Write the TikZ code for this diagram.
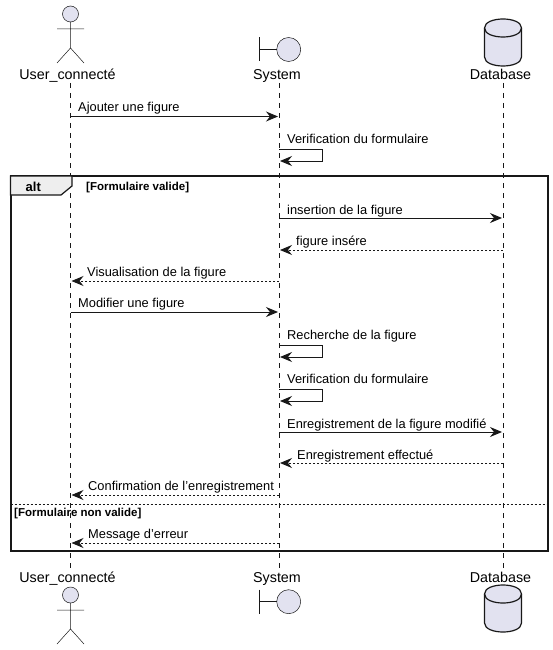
\documentclass[tikz,border=0pt]{standalone}
\usepackage{fontspec}
\setmainfont[Ligatures=Common]{Liberation Sans}
\usetikzlibrary{arrows.meta,positioning}
\definecolor{line}{HTML}{181818}
\definecolor{part}{HTML}{E2E2F0}
\definecolor{tabfill}{HTML}{EEEEEE}
\tikzset{
  actor/.pic={
    \draw[line, fill=part, line width=0.5pt] (0,0) circle (8);
    \draw[line, line width=0.5pt] (0,8) -- (0,34) (-13.5,15) -- (13.5,15) (-13.5,49) -- (0,34) -- (13.5,49);
  },
  boundary/.pic={
    \draw[line, fill=part, line width=0.5pt] (0,0) circle (12);
    \draw[line, line width=0.5pt] (-29,-12) -- (-29,12) (-29,0) -- (-12,0);
  },
  database/.pic={
    \draw[line, fill=part, line width=1.2pt] (-18.5,9) .. controls (-18.5,-3) and (18.5,-3) .. (18.5,9) -- (18.5,38) .. controls (18.5,50) and (-18.5,50) .. (-18.5,38) -- cycle;
    \draw[line, line width=1.2pt] (-18.5,9) .. controls (-18.5,21) and (18.5,21) .. (18.5,9);
  }
}
\begin{document}
\begin{tikzpicture}[
  x=1pt, y=-1pt,
  partlabel/.style={
    anchor=base,
    inner sep=0pt,
    font=\fontsize{14.3}{16}\selectfont
  },
  msgtext/.style={
    anchor=base west,
    inner sep=0pt,
    font=\fontsize{12.85}{15}\selectfont
  },
  guardtext/.style={
    anchor=base west,
    inner sep=0pt,
    font=\fontsize{11.5}{13}\selectfont\bfseries
  },
  lifeline/.style={draw=line, line width=0.5pt, dash pattern=on 5pt off 5pt},
  msg/.style={draw=line, line width=1pt, -{Stealth[length=12pt, width=10pt, inset=4pt]}},
  reply/.style={msg, dash pattern=on 2pt off 2pt}
]

\useasboundingbox (0,0) rectangle (553,650);

% participants
\node[partlabel] (userTop) at (67.5,80) {User\_connecté};
\node[partlabel] (sysTop) at (277,80) {System};
\node[partlabel] (dbTop) at (500.5,80) {Database};
\node[partlabel] (userBot) at (67.5,582) {User\_connecté};
\node[partlabel] (sysBot) at (277,582) {System};
\node[partlabel] (dbBot) at (500.5,582) {Database};

\pic at (70.5,14) {actor};
\pic at (288.7,49.5) {boundary};
\pic at (503,19) {database};
\pic at (70.5,595) {actor};
\pic at (288.7,601.7) {boundary};
\pic at (503,585) {database};

% lifeline ends
\coordinate (userA) at (70.5,83);
\coordinate (userB) at (70.5,568);
\coordinate (sysA) at (279,83);
\coordinate (sysB) at (279,568);
\coordinate (dbA) at (503,83);
\coordinate (dbB) at (503,568);

\draw[lifeline] (userA) -- (userB);
\draw[lifeline] (sysA) -- (sysB);
\draw[lifeline] (dbA) -- (dbB);

% alt frame
\draw[line, line width=2pt] (10.5,176) rectangle (548,551);
\draw[line, fill=tabfill, line width=1.2pt] (10.5,176) -- (72,176) -- (72,186) -- (61,195) -- (10.5,195) -- cycle;
\draw[line, line width=0.8pt, dash pattern=on 2pt off 2pt] (10.5,504) -- (548,504);
\node[anchor=base west, inner sep=0pt, font=\fontsize{13}{15}\selectfont\bfseries] (altTag) at (25.5,191) {alt};
\node[guardtext] (guardOk) at (86,190) {[Formulaire valide]};
\node[guardtext] (guardNo) at (14,516) {[Formulaire non valide]};

% message ends
\coordinate (u1) at (70.5,116.5);
\coordinate (s1) at (278,116.5);
\coordinate (s2a) at (279,149);
\coordinate (s2b) at (322,149);
\coordinate (s2c) at (322,161);
\coordinate (s2d) at (280,161);
\coordinate (s3) at (279,218);
\coordinate (d3) at (502,218);
\coordinate (d4) at (503,250);
\coordinate (s4) at (280,250);
\coordinate (s5) at (279,281);
\coordinate (u5) at (71.5,281);
\coordinate (u6) at (70.5,312);
\coordinate (s6) at (278,312);
\coordinate (s7a) at (279,345);
\coordinate (s7b) at (322,345);
\coordinate (s7c) at (322,357);
\coordinate (s7d) at (280,357);
\coordinate (s8a) at (279,389);
\coordinate (s8b) at (322,389);
\coordinate (s8c) at (322,401);
\coordinate (s8d) at (280,401);
\coordinate (s9) at (279,432);
\coordinate (d9) at (502,432);
\coordinate (d10) at (503,463);
\coordinate (s10) at (280,463);
\coordinate (s11) at (279,495);
\coordinate (u11) at (71.5,495);
\coordinate (s12) at (279,543);
\coordinate (u12) at (71.5,543);

% messages
\draw[msg] (u1) -- (s1);
\draw[msg] (s2a) -- (s2b) -- (s2c) -- (s2d);
\draw[msg] (s3) -- (d3);
\draw[reply] (d4) -- (s4);
\draw[reply] (s5) -- (u5);
\draw[msg] (u6) -- (s6);
\draw[msg] (s7a) -- (s7b) -- (s7c) -- (s7d);
\draw[msg] (s8a) -- (s8b) -- (s8c) -- (s8d);
\draw[msg] (s9) -- (d9);
\draw[reply] (d10) -- (s10);
\draw[reply] (s11) -- (u11);
\draw[reply] (s12) -- (u12);

% message labels
\node[msgtext] (txt1) at (78,112) {Ajouter une figure};
\node[msgtext] (txt2) at (287,143) {Verification du formulaire};
\node[msgtext] (txt3) at (287,214) {insertion de la figure};
\node[msgtext] (txt4) at (296,245) {figure insére};
\node[msgtext] (txt5) at (87,276) {Visualisation de la figure};
\node[msgtext] (txt6) at (78,307) {Modifier une figure};
\node[msgtext] (txt7) at (287,339) {Recherche de la figure};
\node[msgtext] (txt8) at (287,383) {Verification du formulaire};
\node[msgtext] (txt9) at (287,428) {Enregistrement de la figure modifié};
\node[msgtext] (txt10) at (297,459) {Enregistrement effectué};
\node[msgtext] (txt11) at (88,490) {Confirmation de l'enregistrement};
\node[msgtext] (txt12) at (88,538) {Message d'erreur};

\end{tikzpicture}
\end{document}
